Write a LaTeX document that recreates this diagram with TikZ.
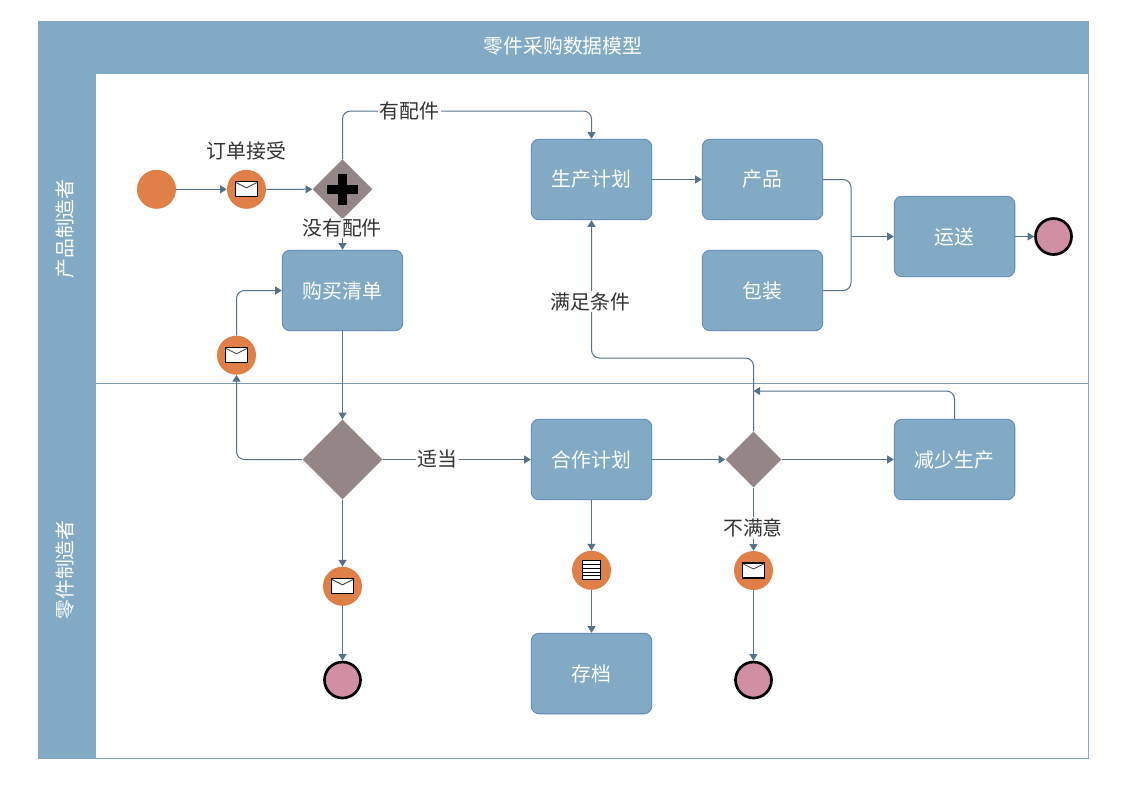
\documentclass[tikz,border=0pt]{standalone}
\usepackage{fontspec}
\setmainfont{Noto Sans CJK SC}
\usetikzlibrary{arrows.meta,shapes.geometric,calc}
\definecolor{laneblue}{HTML}{82AAC5}
\definecolor{boxedge}{HTML}{5B83BD}
\definecolor{lanelinec}{HTML}{7F9DB2}
\definecolor{flowc}{HTML}{56728A}
\definecolor{evorange}{HTML}{DF8048}
\definecolor{gwgrey}{HTML}{948686}
\definecolor{endpink}{HTML}{D08FA2}
\definecolor{labelc}{HTML}{333333}
\tikzset{
  x=0.75pt,y=-0.75pt,
  txt/.style={font=\fontsize{14.9pt}{16pt}\selectfont},
  taskbox/.style={txt,rectangle,rounded corners=6pt,draw=boxedge,line width=0.6pt,fill=laneblue,text=white,minimum width=90.5pt,minimum height=60.5pt,inner sep=0pt},
  evstart/.style={circle,fill=evorange,minimum size=29.25pt,inner sep=0pt},
  evend/.style={circle,fill=endpink,draw=black,line width=2pt,minimum size=27pt,inner sep=0pt},
  gwbig/.style={diamond,aspect=1,fill=gwgrey,minimum size=60pt,inner sep=0pt},
  gwsmall/.style={diamond,aspect=1,fill=gwgrey,minimum size=42pt,inner sep=0pt},
  gwplus/.style={diamond,aspect=1,fill=gwgrey,minimum size=45pt,inner sep=0pt},
  flow/.style={draw=flowc,line width=0.75pt,rounded corners=6pt,-{Triangle[length=5pt,width=6pt]}},
  flowplain/.style={draw=flowc,line width=0.75pt,rounded corners=6pt},
  flowlabel/.style={txt,fill=white,text=labelc,inner sep=1pt},
  plainlabel/.style={txt,text=labelc,inner sep=1pt},
  envbody/.style={draw=black,fill=white,line width=0.9pt},
  envflap/.style={draw=black!75,line width=0.6pt},
}
\newcommand{\envelopeat}[1]{%
  \draw[envbody] ($(#1)+(-11,-7.5)$) rectangle ($(#1)+(11,7.5)$);
  \draw[envflap] ($(#1)+(-11,-7)$) -- ($(#1)+(0,-1.5)$) -- ($(#1)+(11,-7)$);
}
\newcommand{\docat}[1]{%
  \draw[envbody] ($(#1)+(-9,-9.5)$) rectangle ($(#1)+(9,9.5)$);
  \foreach \dy in {-5.5,-1.5,2,5.5}{\draw[black,line width=0.7pt] ($(#1)+(-9,\dy)$) -- ($(#1)+(9,\dy)$);}
}
\begin{document}
\begin{tikzpicture}
\useasboundingbox (0,0) rectangle (1123,794);
\fill[white] (0,0) rectangle (1123,794);
% pool
\draw[draw=laneblue,line width=0.6pt] (38,21) rectangle (1088,758);
\fill[laneblue] (38,21) rectangle (1088,74);
\fill[laneblue] (38,74) rectangle (96,758);
\draw[draw=lanelinec,line width=0.6pt] (96,383) -- (1088,383);
\node[txt,text=white] (title) at (563,46) {零件采购数据模型};
\node[txt,text=white,rotate=90] (laneA) at (65.5,229) {产品制造者};
\node[txt,text=white,rotate=90] (laneB) at (65.5,570) {零件制造者};
% nodes
\node[evstart] (start) at (156.5,189.3) {};
\node[evstart] (msgA) at (246.5,189.3) {};
\node[gwplus] (gw) at (342.5,189.2) {};
\node[taskbox] (plan) at (591.5,179.5) {生产计划};
\node[taskbox] (product) at (762.5,179.5) {产品};
\node[taskbox] (pack) at (762.5,290.5) {包装};
\node[taskbox] (ship) at (954.5,236.5) {运送};
\node[evend] (endA) at (1053.5,236.5) {};
\node[taskbox] (buy) at (342.5,290.5) {购买清单};
\node[evstart] (msgB) at (236.5,355.2) {};
\node[gwbig] (gwB) at (342.5,459.5) {};
\node[taskbox] (coop) at (591.5,459.5) {合作计划};
\node[gwsmall] (gwC) at (753.5,459.5) {};
\node[taskbox] (reduce) at (954.5,459.5) {减少生产};
\node[evstart] (docev) at (591.5,570.3) {};
\node[evstart] (msgC) at (342.5,586.3) {};
\node[evstart] (msgD) at (753.5,570.5) {};
\node[evend] (endB) at (342.5,680) {};
\node[evend] (endC) at (753.5,680) {};
\node[taskbox] (archive) at (591.5,673.5) {存档};
\coordinate (gwup) at (342.5,111);
\coordinate (prodjoin) at (851,236.5);
\coordinate (backup) at (753.5,358);
\coordinate (retjoin) at (753.5,391);
\coordinate (retup) at (954.5,391);
% connectors
\draw[flow] (start) -- (msgA);
\draw[flow] (msgA) -- (gw);
\draw[flow] (gw.north) -- (gwup) -- (gwup -| plan.north) -- (plan.north);
\draw[flow] (gw.south) -- (buy.north);
\draw[flow] (plan) -- (product);
\draw[flowplain] (product.east) -- (product.east -| prodjoin) -- (prodjoin);
\draw[flowplain] (pack.east) -- (pack.east -| prodjoin) -- (prodjoin);
\draw[flow] (prodjoin) -- (ship.west);
\draw[flow] (ship) -- (endA);
\draw[flow] (buy) -- (gwB);
\draw[flow] (gwB.west) -- (gwB.west -| msgB.south) -- (msgB.south);
\draw[flow] (msgB.north) -- (msgB.north |- buy.west) -- (buy.west);
\draw[flow] (gwB) -- (coop);
\draw[flow] (gwB) -- (msgC);
\draw[flow] (msgC) -- (endB);
\draw[flow] (coop) -- (gwC);
\draw[flow] (coop) -- (docev);
\draw[flow] (docev) -- (archive);
\draw[flow] (gwC) -- (reduce);
\draw[flow] (gwC) -- (msgD);
\draw[flow] (msgD) -- (endC);
\draw[flow] (gwC.north) -- (backup) -- (backup -| plan.south) -- (plan.south);
\draw[flow] (reduce.north) -- (retup) -- (retjoin);
% icons
\draw[black,line width=6.5pt] ($(gw)+(-15.5,0)$) -- ($(gw)+(15.5,0)$);
\draw[black,line width=6.5pt] ($(gw)+(0,-15.5)$) -- ($(gw)+(0,15.5)$);
\envelopeat{msgA}
\envelopeat{msgB}
\envelopeat{msgC}
\envelopeat{msgD}
\docat{docev}
% labels
\node[plainlabel] (lbA) at (246.5,151) {订单接受};
\node[flowlabel] (lbB) at (409.5,111) {有配件};
\node[flowlabel] (lbC) at (342,228) {没有配件};
\node[flowlabel] (lbD) at (590.5,301.5) {满足条件};
\node[flowlabel] (lbE) at (437.5,459) {适当};
\node[flowlabel] (lbF) at (753,528) {不满意};
\end{tikzpicture}
\end{document}
